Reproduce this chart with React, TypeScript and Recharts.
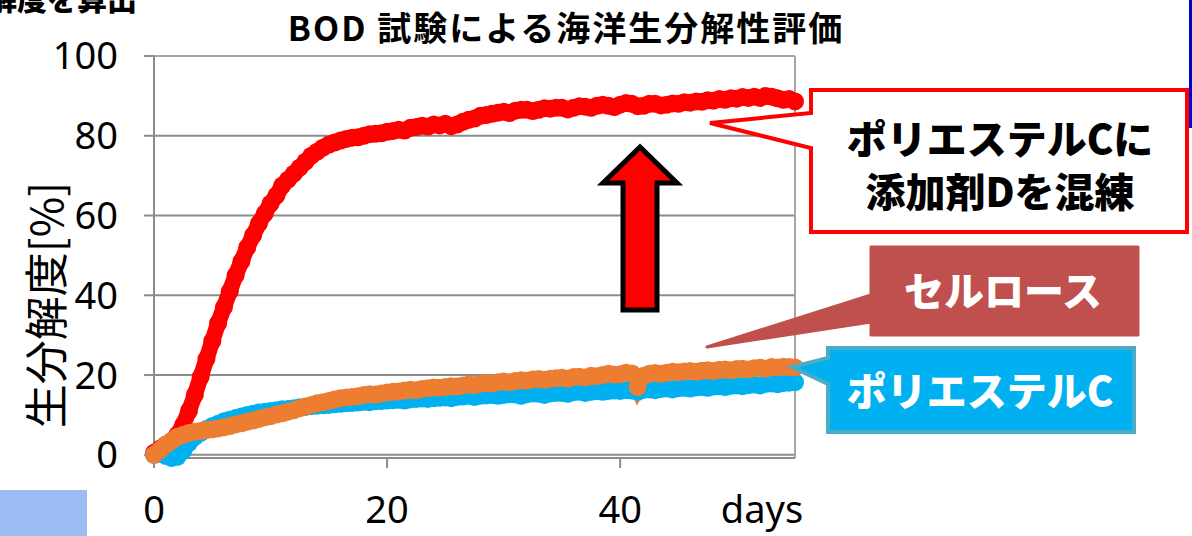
import React from "react";
import { LineChart, Line, XAxis, YAxis, CartesianGrid, ReferenceLine } from "recharts";

// values, one sample every half day (0 .. 55 days)
const POLYESTER_C_D = [
  0.5, 1.5, 2.5, 3, 5, 7.5, 11, 15, 19.5, 24,
  28.5, 33, 37, 41, 45, 48.5, 52, 55, 58, 60.5,
  63, 65, 67.5, 69, 70.5, 72, 73.5, 75, 76, 77,
  77.8, 78.3, 78.8, 79.2, 79.5, 79.6, 80, 80.4, 80.5, 80.6,
  81, 81.2, 81.5, 81.3, 82, 82.2, 82.5, 82.3, 82.8, 82.6,
  83, 82.4, 82.8, 83.5, 84, 84.3, 85, 85.2, 85.5, 85.8,
  86, 85.7, 86.3, 86.5, 86.5, 86.2, 86.5, 86.9, 86.8, 87,
  87, 86.6, 87, 87.4, 87.3, 87, 87.5, 87.8, 87.5, 87.2,
  87.8, 88.2, 88, 87.4, 87.5, 88, 88, 87.6, 87.8, 88.1,
  88, 88.4, 88.3, 88.6, 88.5, 88.9, 88.8, 89.2, 89, 89.4,
  89.3, 89.7, 89.5, 89.8, 89.5, 90, 89.8, 89.4, 89, 89.2,
  88.6,
];

const POLYESTER_C = [
  0, 0.3, -0.3, -0.8, -0.5, 1, 3, 4.5, 5.5, 6.5,
  7.2, 7.8, 8.4, 8.8, 9.2, 9.6, 10, 10.3, 10.6, 10.8,
  11, 11.2, 11.4, 11.5, 11.7, 11.9, 12, 12.2, 12.3, 12.4,
  12.5, 12.7, 12.8, 12.9, 13, 13.1, 13.3, 13.2, 13.4, 13.5,
  13.6, 13.7, 13.8, 13.6, 13.9, 14, 14.1, 14, 14.2, 14.3,
  14.4, 14.2, 14.5, 14.6, 14.8, 14.5, 14.8, 14.9, 15, 14.8,
  15, 15.2, 15.1, 14.8, 15.2, 15.4, 15.3, 15, 15.4, 15.5,
  15.5, 15.3, 15.7, 15.8, 15.5, 15.8, 16, 15.8, 16, 16.1,
  16, 16.2, 16.1, 15.8, 16.3, 16.4, 16.2, 16.5, 16.6, 16.4,
  16.7, 16.8, 16.6, 16.9, 17, 16.8, 17.1, 17.2, 17, 17.3,
  17.4, 17.2, 17.5, 17.6, 17.4, 17.8, 17.9, 17.7, 18, 18.1,
  18.2,
];

const CELLULOSE = [
  0, 1.2, 2.5, 3.5, 4.5, 5, 5.5, 5.8, 6, 6.2,
  6.4, 6.6, 6.9, 7.2, 7.6, 7.9, 8.3, 8.6, 9, 9.4,
  9.7, 10.1, 10.4, 10.8, 11.2, 11.7, 12.1, 12.5, 12.9, 13.2,
  13.5, 13.9, 14.2, 14.4, 14.5, 14.7, 15, 15.2, 15.1, 15.4,
  15.6, 15.8, 15.9, 16.1, 16.3, 16.2, 16.5, 16.7, 16.9, 16.8,
  17, 17.2, 17.1, 17.4, 17.6, 17.5, 17.8, 18, 17.9, 18.2,
  18.4, 18.2, 18.5, 18.7, 18.6, 18.9, 19, 18.8, 19.1, 19.2,
  19.3, 19.1, 19.5, 19.6, 19.4, 19.8, 19.7, 20, 20.3, 20.1,
  20.2, 20.6, 20.4, 17, 19.8, 20.3, 20.5, 20.3, 20.6, 20.8,
  20.7, 20.9, 21, 20.8, 21.1, 21.2, 21, 21.3, 21.4, 21.2,
  21.5, 21.6, 21.4, 21.7, 21.8, 21.6, 22, 21.9, 22.1, 22,
  21.9,
];

const DAYS = POLYESTER_C_D.map((_, i) => i * 0.5);
const X_TICKS = [0, 20, 40];
const Y_TICKS = [0, 20, 40, 60, 80, 100];

const chartData = DAYS.map((day, i) => ({
  day,
  withD: POLYESTER_C_D[i],
  polyC: POLYESTER_C[i],
  cellulose: CELLULOSE[i],
}));

const GRID = "#8c8c8c";
const jp = "'Noto Sans CJK JP', sans-serif";
const yTickFont = { fontSize: 38, fill: "#000", fontFamily: "'Noto Sans', sans-serif" };
const xTickFont = { fontSize: 38, fill: "#000", fontFamily: "'Noto Sans', sans-serif" };

function Overlay() {
  return (
    <svg width={1192} height={536} style={{ position: "absolute", left: 0, top: 0, pointerEvents: "none" }}>
      {/* cut-off heading from the slide */}
      <text x={137} y={10} textAnchor="end" fontFamily={jp} fontWeight={900} fontSize={30} fill="#000">
        分解度を算出
      </text>
      <rect x={1189} y={0} width={3} height={128} fill="#0000cc" />
      <rect x={0} y={490} width={87} height={46} fill="#9dbdf4" />

      <text x={566} y={41} textAnchor="middle" fontFamily={jp} fontWeight={700} fontSize={34} letterSpacing={2} fill="#000">
        BOD 試験による海洋生分解性評価
      </text>

      <text transform="translate(44,305) rotate(-90)" textAnchor="middle" dominantBaseline="central" fontFamily={jp} fontSize={44} fill="#000">
        生分解度[%]
      </text>
      <text x={762} y={523} textAnchor="middle" fontFamily="'Noto Sans', sans-serif" fontSize={38} fill="#000">
        days
      </text>

      {/* arrow */}
      <polygon points="640,147 603,183 623,183 623,310 657,310 657,183 677,183" fill="#ff0000" stroke="#000" strokeWidth={5} />

      {/* callouts */}
      <path d="M811,90 L1187,90 L1187,232 L811,232 L811,148 L710,123 L811,113 Z" fill="#fff" stroke="#ff0000" strokeWidth={4} />
      <text x={1000} y={154} textAnchor="middle" fontFamily={jp} fontWeight={900} fontSize={40} fill="#000">ポリエステルCに</text>
      <text x={1000} y={207} textAnchor="middle" fontFamily={jp} fontWeight={900} fontSize={40} fill="#000">添加剤Dを混練</text>

      <path d="M871,247 L1138,247 L1138,335 L871,335 L871,322 L707,347 L871,295 Z" fill="#c0504d" stroke="#c0504d" strokeWidth={3} strokeLinejoin="round" />
      <text x={1003} y={306} textAnchor="middle" fontFamily={jp} fontWeight={900} fontSize={40} fill="#fff">セルロース</text>

      <path d="M828,348 L1134,348 L1134,432 L828,432 L828,384 L792,367 L828,358 Z" fill="#00b0f0" stroke="#4bacc6" strokeWidth={4} />
      <text x={980} y={406} textAnchor="middle" fontFamily={jp} fontWeight={900} fontSize={40} fill="#fff">ポリエステルC</text>
    </svg>
  );
}

export default function App() {
  return (
    <div style={{ position: "absolute", left: 0, top: 0, width: 1192, height: 536, background: "#fff", overflow: "hidden" }}>
      <LineChart width={1192} height={536} data={chartData} margin={{ top: 56, right: 397, bottom: 0, left: 0 }}>
        <CartesianGrid vertical={false} stroke={GRID} strokeWidth={2} />
        <XAxis
          dataKey="day"
          type="number"
          domain={[0, 55]}
          ticks={X_TICKS}
          interval={0}
          height={78}
          tickSize={10}
          tickMargin={28}
          tick={xTickFont}
          axisLine={{ stroke: GRID, strokeWidth: 2 }}
          tickLine={{ stroke: GRID, strokeWidth: 2 }}
        />
        <YAxis
          domain={[0, 100]}
          ticks={Y_TICKS}
          interval={0}
          width={154}
          tickSize={10}
          tickMargin={26}
          tick={yTickFont}
          axisLine={{ stroke: GRID, strokeWidth: 2 }}
          tickLine={{ stroke: GRID, strokeWidth: 2 }}
        />
        <ReferenceLine x={55} stroke="#a6a6a6" strokeWidth={2} />
        <ReferenceLine y={100} stroke="#a6a6a6" strokeWidth={2} />
        <Line dataKey="withD" stroke="#ff0000" strokeWidth={16} dot={{ r: 9, fill: "#ff0000", stroke: "none" }} activeDot={false} isAnimationActive={false} />
        <Line dataKey="polyC" stroke="#00b0f0" strokeWidth={16} dot={{ r: 9, fill: "#00b0f0", stroke: "none" }} activeDot={false} isAnimationActive={false} />
        <Line dataKey="cellulose" stroke="#ed7d31" strokeWidth={16} dot={{ r: 9, fill: "#ed7d31", stroke: "none" }} activeDot={false} isAnimationActive={false} />
      </LineChart>
      <Overlay />
    </div>
  );
}
